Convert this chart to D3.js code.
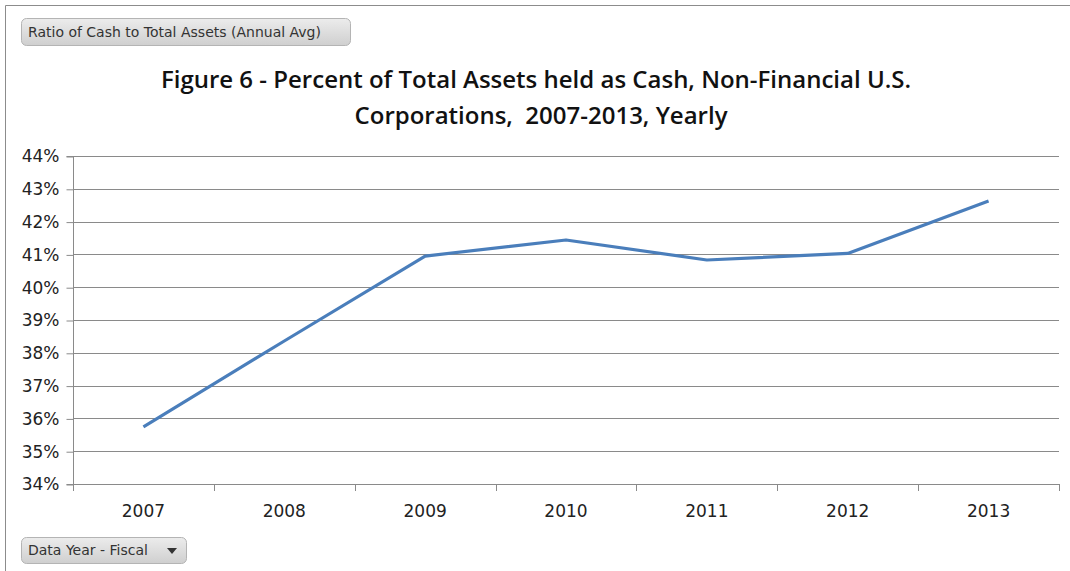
<!DOCTYPE html>
<html>
<head>
<meta charset="utf-8">
<script src="https://cdn.jsdelivr.net/npm/d3@7"></script>
<style>
  html, body { margin: 0; padding: 0; background: #fff; }
  svg { display: block; }
</style>
</head>
<body>
<svg id="chart" width="1070" height="571"></svg>
<script>
// Fiscal years shown on the category axis
const years = ["2007", "2008", "2009", "2010", "2011", "2012", "2013"];
// Cash as a share of total assets, annual average (%)
const cashRatio = [35.74, 38.36, 40.95, 41.44, 40.83, 41.03, 42.63];
// Value axis ticks (%)
const yTicks = [34, 35, 36, 37, 38, 39, 40, 41, 42, 43, 44];

const titleLines = [
  "Figure 6 - Percent of Total Assets held as Cash, Non-Financial U.S.",
  "Corporations,  2007-2013, Yearly"
];

const svg = d3.select("#chart");
const W = 1070, H = 571;
const plot = { left: 73, right: 1059, top: 156, bottom: 484 };
const labelFont = "Tahoma, 'DejaVu Sans', 'Liberation Sans', sans-serif";

// Chart frame
svg.append("path")
  .attr("d", `M5.5,${H} V5.5 H${W}`)
  .attr("fill", "none")
  .attr("stroke", "#8c8c8c")
  .attr("stroke-width", 1);

// Gradient for the pivot field buttons
const defs = svg.append("defs");
const grad = defs.append("linearGradient").attr("id", "btnGrad")
  .attr("x1", 0).attr("y1", 0).attr("x2", 0).attr("y2", 1);
grad.append("stop").attr("offset", "0%").attr("stop-color", "#ececec");
grad.append("stop").attr("offset", "100%").attr("stop-color", "#cfcfcf");

function fieldButton(x, y, w, h, label, arrow) {
  const g = svg.append("g").attr("transform", `translate(${x},${y})`);
  g.append("rect")
    .attr("x", 0.5).attr("y", 0.5).attr("width", w).attr("height", h)
    .attr("rx", 5).attr("ry", 5)
    .attr("fill", "url(#btnGrad)")
    .attr("stroke", "#b4b4b4");
  g.append("text")
    .attr("x", 7).attr("y", h / 2 + 5)
    .attr("font-family", labelFont)
    .attr("font-size", 14)
    .attr("fill", "#333")
    .text(label);
  if (arrow) {
    const ax = w - 14, ay = h / 2 - 2;
    g.append("path")
      .attr("d", `M${ax - 5},${ay} L${ax + 5},${ay} L${ax},${ay + 6} Z`)
      .attr("fill", "#333");
  }
}

fieldButton(21, 18, 329, 27, "Ratio of Cash to Total Assets (Annual Avg)", false);
fieldButton(21, 537, 165, 26, "Data Year - Fiscal", true);

// Title (two lines, spacing kept as written)
svg.append("g").selectAll("text")
  .data(titleLines)
  .join("text")
  .attr("x", (d, i) => i === 0 ? 536 : 541)
  .attr("y", (d, i) => 88 + i * 36)
  .attr("text-anchor", "middle")
  .attr("font-family", "'Open Sans', 'Liberation Sans', sans-serif")
  .attr("font-weight", 600)
  .attr("font-size", 24)
  .attr("fill", "#111")
  .style("white-space", "pre")
  .text(d => d);

// Scales
const x = d3.scaleBand().domain(years).range([plot.left, plot.right]).padding(0);
const y = d3.scaleLinear().domain([34, 44]).range([plot.bottom, plot.top]);

// Horizontal gridlines
svg.append("g").selectAll("line")
  .data(yTicks)
  .join("line")
  .attr("x1", plot.left).attr("x2", plot.right)
  .attr("y1", d => Math.round(y(d)) + 0.5).attr("y2", d => Math.round(y(d)) + 0.5)
  .attr("stroke", "#8a8a8a")
  .attr("stroke-width", 1);

// Value axis
const yAxis = d3.axisLeft(y)
  .tickValues(yTicks)
  .tickSize(7)
  .tickPadding(7)
  .tickFormat(d => d + "%");
const yg = svg.append("g")
  .attr("transform", `translate(${plot.left + 0.5},0.5)`)
  .call(yAxis);
yg.select(".domain").attr("stroke", "#8a8a8a").attr("d", `M-7,${plot.top}H0V${plot.bottom}H-7`);
yg.selectAll(".tick line").attr("stroke", "#8a8a8a");
yg.selectAll(".tick text")
  .attr("font-family", labelFont)
  .attr("font-size", 17)
  .attr("fill", "#222");

// Category axis with ticks at band boundaries
const bounds = years.map(d => x(d)).concat([plot.right]);
const xg = svg.append("g");
xg.append("line")
  .attr("x1", plot.left).attr("x2", plot.right)
  .attr("y1", plot.bottom + 0.5).attr("y2", plot.bottom + 0.5)
  .attr("stroke", "#8a8a8a");
xg.selectAll("line.tk")
  .data(bounds)
  .join("line")
  .attr("class", "tk")
  .attr("x1", d => Math.round(d) + 0.5).attr("x2", d => Math.round(d) + 0.5)
  .attr("y1", plot.bottom).attr("y2", plot.bottom + 7)
  .attr("stroke", "#8a8a8a");
xg.selectAll("text")
  .data(years)
  .join("text")
  .attr("x", d => x(d) + x.bandwidth() / 2)
  .attr("y", plot.bottom + 33)
  .attr("text-anchor", "middle")
  .attr("font-family", labelFont)
  .attr("font-size", 17)
  .attr("fill", "#222")
  .text(d => d);

// Series line
const pts = years.map((d, i) => [x(d) + x.bandwidth() / 2, y(cashRatio[i])]);
svg.append("path")
  .datum(pts)
  .attr("d", d3.line())
  .attr("fill", "none")
  .attr("stroke", "#4a7ebb")
  .attr("stroke-width", 3.2)
  .attr("stroke-linejoin", "round");
</script>
</body>
</html>
